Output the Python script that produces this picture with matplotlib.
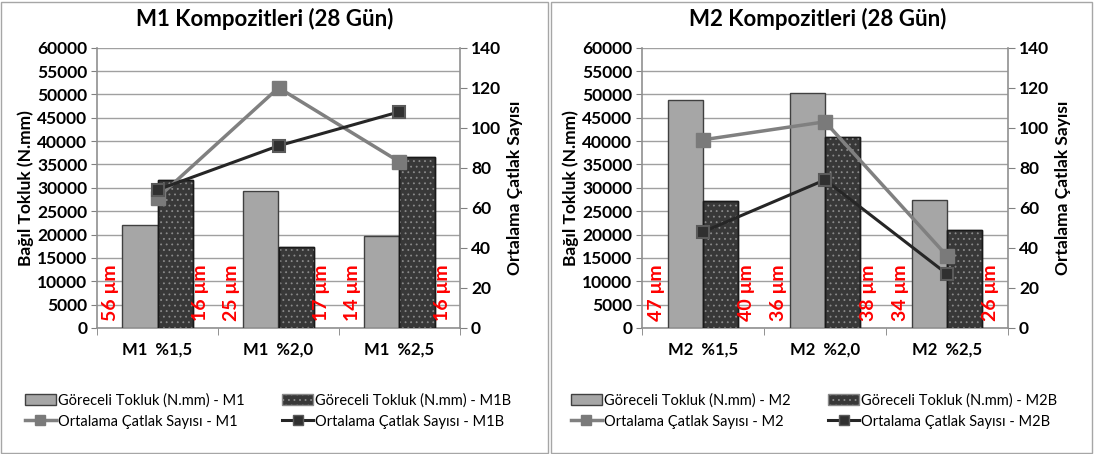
import matplotlib
matplotlib.use("Agg")
import matplotlib.pyplot as plt
import numpy as np
from matplotlib.patches import Rectangle, Patch
from matplotlib.lines import Line2D

plt.rcParams['font.family'] = ['Lato', 'DejaVu Sans']
plt.rcParams['hatch.linewidth'] = 0.6

# ---- data ----
m1_categories = ["M1  %1,5", "M1  %2,0", "M1  %2,5"]
m1_tough = [22000, 29300, 19700]
m1b_tough = [31600, 17300, 36500]
m1_cracks = [65, 120, 83]
m1b_cracks = [69, 91, 108]
m1_widths_a = ["56 µm", "25 µm", "14 µm"]
m1_widths_b = ["16 µm", "17 µm", "16 µm"]

m2_categories = ["M2  %1,5", "M2  %2,0", "M2  %2,5"]
m2_tough = [48800, 50200, 27300]
m2b_tough = [27100, 40800, 20900]
m2_cracks = [94, 103, 36]
m2b_cracks = [48, 74, 27]
m2_widths_a = ["47 µm", "36 µm", "34 µm"]
m2_widths_b = ["40 µm", "38 µm", "26 µm"]

fig = plt.figure(figsize=(10.94, 4.54), dpi=100)
W, H = 1094, 454

# panel borders
for x0, x1 in [(1, 548), (551, 1092)]:
    fig.patches.append(Rectangle((x0 / W, 1 / H), (x1 - x0) / W, (H - 3) / H,
                                 transform=fig.transFigure, fill=False,
                                 edgecolor='#a6a6a6', lw=1.0))


def panel(left_px, right_px, title, title_x, cats, t_a, t_b, c_a, c_b, wa, wb,
          lab_a, lab_b, leg_x):
    ax = fig.add_axes([left_px / W, 1 - 328 / H, (right_px - left_px) / W, (328 - 47.7) / H])
    x = np.arange(len(cats))
    bw = 0.29
    ax.bar(x - bw / 2, t_a, bw, color='#a6a6a6', edgecolor='#404040', lw=1.0, zorder=3)
    ax.bar(x + bw / 2, t_b, bw, color='#383838', edgecolor='#1a1a1a', lw=1.0, zorder=3)
    ax.bar(x + bw / 2, t_b, bw, fill=False, hatch='...', edgecolor='#8a8a8a', lw=0, zorder=3.5)
    ax.bar(x + bw / 2, t_b, bw, fill=False, edgecolor='#1a1a1a', lw=1.0, zorder=3.6)
    ax.set_ylim(0, 60000)
    ax.set_yticks(np.arange(0, 60001, 5000))
    ax.set_xlim(-0.5, len(cats) - 0.5)
    ax.set_xticks(x)
    ax.set_xticklabels(cats, fontweight='bold', fontsize=12)
    ax.set_xticks(np.arange(-0.5, len(cats), 1), minor=True)
    ax.tick_params(axis='x', which='major', length=0, pad=10)
    ax.tick_params(axis='x', which='minor', length=5, color='#808080')
    ax.tick_params(axis='y', length=4, color='#808080', labelsize=12.5, pad=3)
    for lbl in ax.get_yticklabels():
        lbl.set_fontweight('bold')
    ax.grid(axis='y', color='#a0a0a0', lw=1.0, zorder=0)
    ax.set_axisbelow(True)
    for s in ['top', 'right']:
        ax.spines[s].set_visible(False)
    for s in ['left', 'bottom']:
        ax.spines[s].set_color('#909090')
        ax.spines[s].set_linewidth(1.2)
    ax.set_ylabel("Bağıl Tokluk (N.mm)", fontweight='bold', fontsize=12.5, labelpad=2)

    for i in x:
        ax.text(i - 0.385, 1500, wa[i], rotation=90, color='red', fontweight='bold',
                fontsize=14, ha='center', va='bottom', zorder=6)
        ax.text(i + 0.355, 1500, wb[i], rotation=90, color='red', fontweight='bold',
                fontsize=14, ha='center', va='bottom', zorder=6)

    ax2 = ax.twinx()
    ax2.set_ylim(0, 140)
    ax2.set_yticks(np.arange(0, 141, 20))
    ax2.plot(x, c_a, color='#808080', lw=2.5, marker='s', ms=9.5,
             mfc='#7a7a7a', mec='#7a7a7a', zorder=5)
    ax2.plot(x, c_b, color='#262626', lw=2.2, marker='s', ms=9,
             mfc='#303030', mec='#5a5a5a', mew=1.5, zorder=5)
    ax2.tick_params(axis='y', length=5, color='#808080', labelsize=12.5, pad=3)
    for lbl in ax2.get_yticklabels():
        lbl.set_fontweight('bold')
    for s in ['top', 'left', 'bottom']:
        ax2.spines[s].set_visible(False)
    ax2.spines['right'].set_color('#909090')
    ax2.spines['right'].set_linewidth(1.2)
    ax2.set_ylabel("Ortalama Çatlak Sayısı", fontweight='bold', fontsize=12.5, labelpad=4)

    fig.text(title_x / W, 1 - 19 / H, title, ha='center', va='center',
             fontsize=16, fontweight='bold')

    handles = [
        Patch(facecolor='#a6a6a6', edgecolor='#404040', lw=1.0),
        Line2D([], [], color='#808080', lw=2.5, marker='s', ms=7, mfc='#7a7a7a', mec='#7a7a7a'),
        Patch(facecolor='#383838', edgecolor='#8a8a8a', lw=1.0, hatch='...'),
        Line2D([], [], color='#262626', lw=2.2, marker='s', ms=7, mfc='#303030', mec='#5a5a5a'),
    ]
    labels = ["Göreceli Tokluk (N.mm) - " + lab_a, "Ortalama Çatlak Sayısı - " + lab_a,
              "Göreceli Tokluk (N.mm) - " + lab_b, "Ortalama Çatlak Sayısı - " + lab_b]
    fig.legend(handles, labels, ncol=2, loc='upper left',
               bbox_to_anchor=(leg_x / W, 1 - 393 / H), frameon=False,
               fontsize=10.5, handlelength=2.1, handleheight=0.8, handletextpad=0.15,
               columnspacing=2.6, labelspacing=0.5, borderpad=0, borderaxespad=0)
    return ax, ax2


panel(97, 460, "M1 Kompozitleri (28 Gün)", 265, m1_categories, m1_tough, m1b_tough,
      m1_cracks, m1b_cracks, m1_widths_a, m1_widths_b, "M1", "M1B", 25)
panel(642, 1008, "M2 Kompozitleri (28 Gün)", 818, m2_categories, m2_tough, m2b_tough,
      m2_cracks, m2b_cracks, m2_widths_a, m2_widths_b, "M2", "M2B", 571)

fig.savefig("out.png", dpi=100)
